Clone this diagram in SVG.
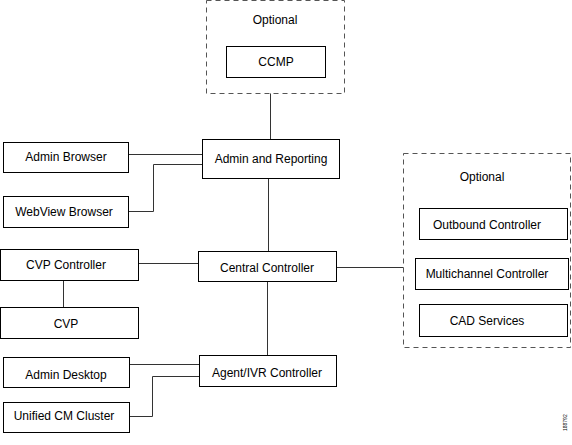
<svg xmlns="http://www.w3.org/2000/svg" width="572" height="445" viewBox="0 0 572 445">
<style>
.box{fill:#fff;stroke:#000;stroke-width:1}
.opt{fill:none;stroke:#555;stroke-width:1;stroke-dasharray:5,4}
.lbl{font-family:"Liberation Sans",Arial,sans-serif;font-size:12px;fill:#000;text-anchor:middle;dominant-baseline:central}
.conn{fill:none;stroke:#333;stroke-width:1}
.id{font-family:"Liberation Sans",Arial,sans-serif;font-size:5px;fill:#000}
</style>
<rect width="572" height="445" fill="#fff"/>
<g id="connectors">
<path class="conn" d="M270.5 93.5V139"/>
<path class="conn" d="M128 154.5H202"/>
<path class="conn" d="M128 211.5H153.5V164.5H202"/>
<path class="conn" d="M268.5 178V251"/>
<path class="conn" d="M138 263.5H198"/>
<path class="conn" d="M63.5 280V307"/>
<path class="conn" d="M336 267.5H403.5"/>
<path class="conn" d="M267.5 281V355"/>
<path class="conn" d="M129 364.5H199"/>
<path class="conn" d="M129 416.5H152.5V376.5H199"/>
</g>
<g id="optional-top">
<rect class="opt" x="206.5" y="0.5" width="138" height="93"/>
<text class="lbl" x="275" y="20">Optional</text>
</g>
<g id="ccmp">
<rect class="box" x="226.5" y="46.5" width="99" height="31"/>
<text class="lbl" x="276" y="62">CCMP</text>
</g>
<g id="admin-reporting">
<rect class="box" x="202.5" y="139.5" width="137" height="39"/>
<text class="lbl" x="271" y="159">Admin and Reporting</text>
</g>
<g id="admin-browser">
<rect class="box" x="3.5" y="142.5" width="125" height="30"/>
<text class="lbl" x="66" y="157">Admin Browser</text>
</g>
<g id="webview-browser">
<rect class="box" x="3.5" y="196.5" width="125" height="31"/>
<text class="lbl" x="64" y="211.5">WebView Browser</text>
</g>
<g id="cvp-controller">
<rect class="box" x="0.5" y="249.5" width="138" height="31"/>
<text class="lbl" x="66" y="265">CVP Controller</text>
</g>
<g id="cvp">
<rect class="box" x="0.5" y="307.5" width="138" height="31"/>
<text class="lbl" x="66" y="324">CVP</text>
</g>
<g id="central-controller">
<rect class="box" x="198.5" y="251.5" width="138" height="30"/>
<text class="lbl" x="267" y="268">Central Controller</text>
</g>
<g id="admin-desktop">
<rect class="box" x="3.5" y="357.5" width="126" height="30"/>
<text class="lbl" x="66" y="375">Admin Desktop</text>
</g>
<g id="unified-cm">
<rect class="box" x="3.5" y="402.5" width="126" height="30"/>
<text class="lbl" x="64" y="416">Unified CM Cluster</text>
</g>
<g id="agent-ivr">
<rect class="box" x="199.5" y="355.5" width="137" height="31"/>
<text class="lbl" x="267" y="373">Agent/IVR Controller</text>
</g>
<g id="optional-right">
<rect class="opt" x="403.5" y="153.5" width="167" height="194"/>
<text class="lbl" x="482" y="177">Optional</text>
</g>
<g id="outbound">
<rect class="box" x="419.5" y="208.5" width="148" height="31"/>
<text class="lbl" x="487" y="224.5">Outbound Controller</text>
</g>
<g id="multichannel">
<rect class="box" x="415.5" y="258.5" width="153" height="31"/>
<text class="lbl" x="487" y="274">Multichannel Controller</text>
</g>
<g id="cad">
<rect class="box" x="419.5" y="304.5" width="148" height="32"/>
<text class="lbl" x="487" y="321">CAD Services</text>
</g>
<text class="id" transform="translate(567 431) rotate(-90)">188792</text>
</svg>
